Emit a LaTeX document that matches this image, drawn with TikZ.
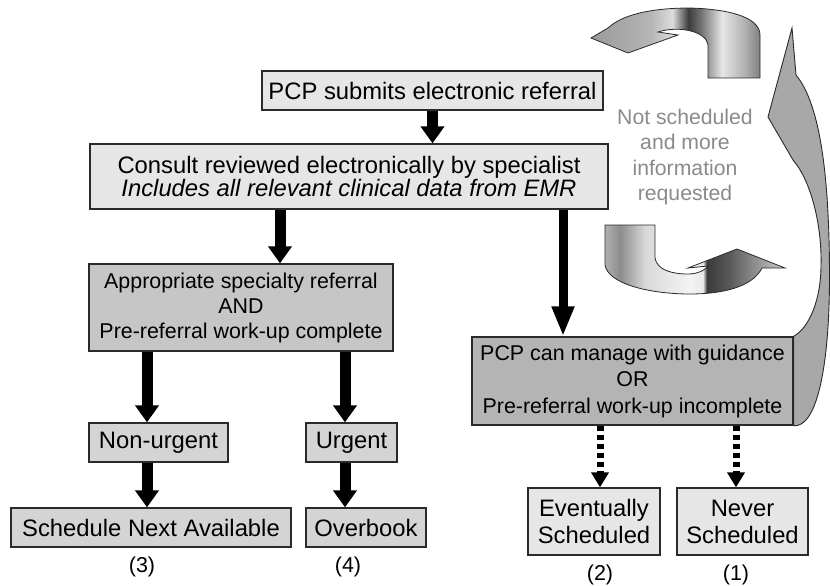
\documentclass[tikz,border=0pt]{standalone}
\usepackage{fontspec}
\setmainfont{Liberation Sans}
\usetikzlibrary{arrows.meta}
\pgfdeclarelayer{bg}
\pgfsetlayers{bg,main}
\definecolor{lightbox}{HTML}{E6E6E6}
\definecolor{midbox}{HTML}{D4D4D4}
\definecolor{darkbox}{HTML}{C6C6C6}
\definecolor{darkerbox}{HTML}{B4B4B4}
\definecolor{edgec}{HTML}{2A2A2A}
\definecolor{greytext}{HTML}{8A8A8A}
\definecolor{backarrow}{HTML}{A8A8A8}
% top ribbon colours
\definecolor{ta}{HTML}{9A9A9A}
\definecolor{tb}{HTML}{B5B5B5}
\definecolor{tc}{HTML}{DCDCDC}
\definecolor{td}{HTML}{3C3C3C}
\definecolor{te}{HTML}{707070}
\definecolor{tf}{HTML}{E6E6E6}
\definecolor{tg}{HTML}{B0B0B0}
\definecolor{th}{HTML}{808080}
% bottom ribbon colours
\definecolor{ba}{HTML}{B0B0B0}
\definecolor{bb}{HTML}{8C8C8C}
\definecolor{bc}{HTML}{D8D8D8}
\definecolor{bd}{HTML}{F4F4F4}
\definecolor{be}{HTML}{E8E8E8}
\definecolor{bf}{HTML}{3A3A3A}
\definecolor{bg}{HTML}{5A5A5A}
\definecolor{bh}{HTML}{9A9A9A}
\definecolor{bi}{HTML}{D0D0D0}
\pgfdeclarehorizontalshading{metaltop}{100bp}{color(0bp)=(ta); color(25bp)=(ta); color(42.6bp)=(tb); color(49.1bp)=(tc); color(53.8bp)=(td); color(57.4bp)=(te); color(63.8bp)=(tf); color(70.6bp)=(tg); color(75bp)=(th); color(100bp)=(th)}
\pgfdeclarehorizontalshading{metalbot}{100bp}{color(0bp)=(ba); color(25bp)=(ba); color(29.2bp)=(bb); color(36.1bp)=(bc); color(48.6bp)=(bd); color(52.2bp)=(be); color(53.3bp)=(bf); color(59.7bp)=(bg); color(68.1bp)=(bh); color(75bp)=(bi); color(100bp)=(bi)}
\begin{document}
\begin{tikzpicture}[x=1pt,y=-1pt,
  boxbase/.style={draw=edgec, line width=1.3pt, inner sep=0pt, align=center, text=black},
  lbox/.style={boxbase, fill=lightbox},
  mbox/.style={boxbase, fill=midbox},
  dbox/.style={boxbase, fill=darkbox},
  ddbox/.style={boxbase, fill=darkerbox},
  fbig/.style={font=\fontsize{23.8pt}{23.5pt}\selectfont},
  fsmall/.style={font=\fontsize{21.4pt}{25pt}\selectfont},
  fnum/.style={font=\fontsize{21.5pt}{25pt}\selectfont},
  bigarr/.style={draw=black, line width=11pt, -{Triangle[width=23pt,length=17pt]}},
  longarr/.style={draw=black, line width=9pt, -{Triangle[width=21pt,length=30pt]}},
  dotarr/.style={draw=black, line width=7pt, dash pattern=on 5pt off 4pt, -{Triangle[width=17pt,length=15pt]}},
  ribbon/.style={draw=edgec, line width=0.8pt},
]
\useasboundingbox (0,0) rectangle (830,586);

% boxes
\node[lbox, fbig, minimum width=341pt, minimum height=39pt] (b1) at (432.5,90.5) {PCP submits electronic referral};
\node[lbox, fbig, minimum width=518pt, minimum height=65pt] (b2) at (349,176.5) {Consult reviewed electronically by specialist\\\textit{Includes all relevant clinical data from EMR}};
\node[dbox, fsmall, minimum width=304pt, minimum height=87pt] (b3) at (241,307.5) {Appropriate specialty referral\\AND\\Pre-referral work-up complete};
\node[ddbox, font=\fontsize{21.4pt}{26.5pt}\selectfont, minimum width=321pt, minimum height=88pt] (b4) at (632.5,381) {PCP can manage with guidance\\OR\\Pre-referral work-up incomplete};
\node[mbox, fbig, minimum width=139pt, minimum height=39pt] (nu) at (158.5,442.5) {Non-urgent};
\node[mbox, fbig, minimum width=91pt, minimum height=39pt] (ur) at (351.5,442.5) {Urgent};
\node[mbox, fbig, minimum width=280pt, minimum height=39pt] (sch) at (151,527.5) {Schedule Next Available};
\node[mbox, fbig, minimum width=120pt, minimum height=39pt] (ob) at (366,527.5) {Overbook};
\node[lbox, font=\fontsize{23.8pt}{27pt}\selectfont, minimum width=132pt, minimum height=67pt] (ev) at (594,521.5) {Eventually\\Scheduled};
\node[lbox, font=\fontsize{23.8pt}{27pt}\selectfont, minimum width=131pt, minimum height=67pt] (nv) at (742.5,521.5) {Never\\Scheduled};

% outcome labels
\node[fnum] (l3) at (142,567) {(3)};
\node[fnum] (l4) at (348,567) {(4)};
\node[fnum] (l2) at (600,575) {(2)};
\node[fnum] (l1) at (736,575) {(1)};

% grey text
\node[text=greytext, align=center, font=\fontsize{21.2pt}{25.5pt}\selectfont] (nsq) at (685,157) {Not scheduled\\and more\\information\\requested};

% connectors
\draw[bigarr] (b1.south) -- (b1.south |- b2.north);
\draw[bigarr] (b2.south -| 280,0) -- (b3.north -| 280,0);
\draw[longarr] (b2.south -| 563,0) -- (b4.north -| 563,0);
\draw[bigarr] (b3.south -| 147,0) -- (nu.north -| 147,0);
\draw[bigarr] (b3.south -| 345,0) -- (ur.north -| 345,0);
\draw[bigarr] (nu.south -| 147,0) -- (sch.north -| 147,0);
\draw[bigarr] (ur.south -| 345,0) -- (ob.north -| 345,0);
\draw[dotarr] (b4.south -| 600,0) -- (ev.north -| 600,0);
\draw[dotarr] (b4.south -| 736,0) -- (nv.north -| 736,0);

\begin{pgfonlayer}{bg}
% big grey return arrow
\draw[draw=edgec, line width=0.9pt, fill=backarrow]
  (b4.north east) .. controls (809,328) and (821,300) .. (821,265)
  .. controls (822,228) and (812,182) .. (793,160)
  -- (768,117) -- (792,28) -- (796,75)
  .. controls (821,105) and (829,180) .. (829.5,270)
  .. controls (830,370) and (816,428) .. (b4.south east) -- cycle;
\end{pgfonlayer}

% top shaded ribbon arrow
\draw[ribbon, shading=metaltop]
  (708,78) -- (708,45) .. controls (707,32) and (680,25) .. (658,32)
  -- (678,35) -- (628,53) -- (591,38) -- (608,28)
  .. controls (625,12) and (660,8) .. (690,8)
  .. controls (725,9) and (760,16) .. (760,35) -- (760,78) -- cycle;

% bottom shaded ribbon arrow
\draw[ribbon, shading=metalbot]
  (605,225) -- (655,225) -- (655,258)
  .. controls (657,270) and (672,274) .. (688,274)
  .. controls (698,274) and (705,270) .. (708,266)
  -- (688,268) -- (737,249) -- (785,268) -- (762,268)
  .. controls (752,288) and (720,294) .. (690,294)
  .. controls (650,294) and (608,284) .. (605,265) -- cycle;
\end{tikzpicture}
\end{document}
